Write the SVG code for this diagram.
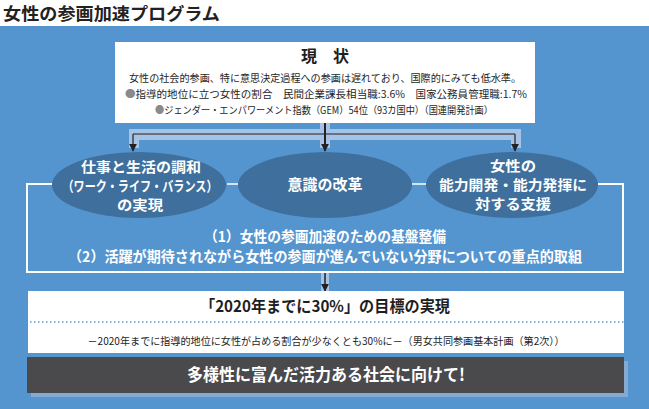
<svg xmlns="http://www.w3.org/2000/svg" width="649" height="409" viewBox="0 0 649 409">
<defs>
<style>
.jp{font-family:"Noto Sans CJK JP","Noto Sans CJK SC",sans-serif;}
.w{fill:#ffffff;font-weight:bold;}
.k{fill:#1e1e1e;}
.node{fill:#3e6f9d;}
.band{fill:#a6c3e6;}
.ln{stroke:#222;fill:none;}
</style>
<marker id="ah" viewBox="0 0 10 10" refX="9" refY="5" markerWidth="8" markerHeight="8" markerUnits="userSpaceOnUse" orient="auto">
<path d="M0,0 L10,5 L0,10 z" fill="#222"/>
</marker>
</defs>
<rect x="0" y="0" width="649" height="409" fill="#ffffff"/>
<text class="jp" x="3" y="20" font-size="17" font-weight="bold" fill="#222" textLength="217" lengthAdjust="spacingAndGlyphs">女性の参画加速プログラム</text>
<rect x="0" y="26" width="649" height="383" fill="#5495cf"/>

<g id="connectors">
<path class="band" d="M129,129 H521 V148 H511 V140 H330 V148 H320 V140 H139 V148 H129 Z"/>
<rect class="band" x="320" y="123" width="10" height="20"/>
<line class="ln" x1="133" y1="134" x2="515" y2="134" stroke-width="1.2"/>
<line class="ln" x1="133" y1="134" x2="133" y2="151" stroke-width="1.2" marker-end="url(#ah)"/>
<line class="ln" x1="515" y1="134" x2="515" y2="151" stroke-width="1.2" marker-end="url(#ah)"/>
<line class="ln" x1="325" y1="123" x2="325" y2="151" stroke-width="2" marker-end="url(#ah)"/>
<path d="M52,184 H27 V272 H623 V184 H598" fill="none" stroke="#ffffff" stroke-width="2"/>
<line x1="227" y1="184" x2="238" y2="184" stroke="#ffffff" stroke-width="1.5"/>
<line x1="412" y1="184" x2="426" y2="184" stroke="#ffffff" stroke-width="1.5"/>
<rect class="band" x="321" y="273" width="8" height="18"/>
<line class="ln" x1="325" y1="273" x2="325" y2="291" stroke-width="1.5" marker-end="url(#ah)"/>
</g>

<g id="current">
<rect x="115" y="42" width="420" height="81" fill="#ffffff"/>
<text class="jp k" x="325" y="62" font-size="16" font-weight="bold" text-anchor="middle">現　状</text>
<text class="jp k" x="325" y="82" font-size="10" text-anchor="middle" textLength="392" lengthAdjust="spacingAndGlyphs">女性の社会的参画、特に意思決定過程への参画は遅れており、国際的にみても低水準。</text>
<text class="jp k" x="326" y="98" font-size="10" text-anchor="middle" textLength="402" lengthAdjust="spacingAndGlyphs"><tspan fill="#8a8a8a">●</tspan>指導的地位に立つ女性の割合　民間企業課長相当職:3.6%　国家公務員管理職:1.7%</text>
<text class="jp k" x="324" y="114" font-size="10" text-anchor="middle" textLength="338" lengthAdjust="spacingAndGlyphs"><tspan fill="#8a8a8a">●</tspan>ジェンダー・エンパワーメント指数（GEM）54位（93カ国中）（国連開発計画）</text>
</g>

<g id="worklife">
<ellipse class="node" cx="139" cy="185" rx="87" ry="33"/>
<text class="jp w" x="141" y="172" font-size="14" text-anchor="middle" textLength="120" lengthAdjust="spacingAndGlyphs">仕事と生活の調和</text>
<text class="jp w" x="140" y="191" font-size="14" text-anchor="middle" textLength="155" lengthAdjust="spacingAndGlyphs">（ワーク・ライフ・バランス）</text>
<text class="jp w" x="140" y="210" font-size="14" text-anchor="middle" textLength="46" lengthAdjust="spacingAndGlyphs">の実現</text>
</g>

<g id="awareness">
<ellipse class="node" cx="325" cy="185" rx="87" ry="33"/>
<text class="jp w" x="325" y="190" font-size="15" text-anchor="middle">意識の改革</text>
</g>

<g id="support">
<ellipse class="node" cx="512" cy="185" rx="86" ry="33"/>
<text class="jp w" x="513" y="171" font-size="14" text-anchor="middle" textLength="46" lengthAdjust="spacingAndGlyphs">女性の</text>
<text class="jp w" x="513" y="190" font-size="14" text-anchor="middle" textLength="148" lengthAdjust="spacingAndGlyphs">能力開発・能力発揮に</text>
<text class="jp w" x="513" y="209" font-size="14" text-anchor="middle" textLength="76" lengthAdjust="spacingAndGlyphs">対する支援</text>
</g>

<g id="measures">
<text class="jp w" x="325" y="242" font-size="14.5" text-anchor="middle" textLength="242" lengthAdjust="spacingAndGlyphs">（1）女性の参画加速のための基盤整備</text>
<text class="jp w" x="325" y="262" font-size="14.5" text-anchor="middle" textLength="514" lengthAdjust="spacingAndGlyphs">（2）活躍が期待されながら女性の参画が進んでいない分野についての重点的取組</text>
</g>

<g id="target">
<rect x="28" y="291" width="596" height="62" fill="#ffffff"/>
<text class="jp k" x="325" y="312" font-size="16" font-weight="bold" text-anchor="middle" textLength="250" lengthAdjust="spacingAndGlyphs">「2020年までに30%」の目標の実現</text>
<line x1="30" y1="322" x2="624" y2="322" stroke="#5a9ad6" stroke-width="1.5" stroke-dasharray="1.5 2.5"/>
<text class="jp k" x="326" y="345" font-size="10.5" text-anchor="middle" textLength="477" lengthAdjust="spacingAndGlyphs">－2020年までに指導的地位に女性が占める割合が少なくとも30%に－（男女共同参画基本計画（第2次））</text>
</g>

<g id="goal">
<rect x="31" y="361" width="597" height="36" fill="#86a9d2"/>
<rect x="27" y="357" width="597" height="36" fill="#4a4a4c"/>
<text class="jp w" x="326" y="381" font-size="17" text-anchor="middle" textLength="278" lengthAdjust="spacingAndGlyphs">多様性に富んだ活力ある社会に向けて!</text>
</g>
</svg>
